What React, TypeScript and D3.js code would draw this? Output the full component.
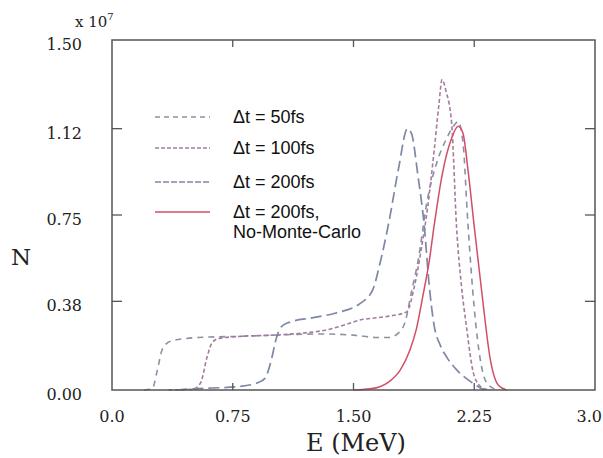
import React from "react";
import * as d3 from "d3";

// Energy (MeV) and N (x10^7)
const e50 = [0.2, 0.25, 0.28, 0.31, 0.34, 0.38, 0.45, 0.6, 0.8, 1.0, 1.3, 1.5, 1.65, 1.72, 1.78, 1.82, 1.86, 1.9, 1.96, 2.02, 2.08, 2.12, 2.15, 2.18, 2.21, 2.25, 2.29, 2.32, 2.36, 2.4];
const n50 = [0, 0.005, 0.08, 0.17, 0.2, 0.212, 0.22, 0.227, 0.23, 0.235, 0.24, 0.235, 0.225, 0.225, 0.245, 0.29, 0.42, 0.55, 0.82, 0.98, 1.08, 1.13, 1.15, 1.06, 0.72, 0.35, 0.12, 0.04, 0.01, 0];

const e100 = [0.35, 0.5, 0.55, 0.59, 0.62, 0.66, 0.8, 1.0, 1.2, 1.33, 1.45, 1.54, 1.65, 1.75, 1.83, 1.88, 1.92, 1.96, 2.0, 2.03, 2.05, 2.075, 2.11, 2.14, 2.17, 2.2, 2.25, 2.3, 2.35];
const n100 = [0, 0.003, 0.03, 0.14, 0.2, 0.22, 0.23, 0.235, 0.245, 0.257, 0.28, 0.3, 0.31, 0.32, 0.335, 0.45, 0.6, 0.78, 1.02, 1.22, 1.33, 1.28, 1.14, 0.7, 0.45, 0.28, 0.06, 0.01, 0];

const e200 = [0.4, 0.5, 0.79, 0.9, 0.95, 0.99, 1.02, 1.05, 1.1, 1.25, 1.39, 1.54, 1.62, 1.66, 1.72, 1.78, 1.835, 1.86, 1.9, 1.94, 1.97, 2.0, 2.04, 2.08, 2.15, 2.24, 2.31];
const n200 = [0, 0.005, 0.015, 0.03, 0.05, 0.13, 0.22, 0.27, 0.29, 0.31, 0.33, 0.37, 0.43, 0.53, 0.72, 0.95, 1.12, 1.1, 0.92, 0.7, 0.45, 0.28, 0.19, 0.14, 0.08, 0.03, 0];

const eNoMC = [1.5, 1.6, 1.66, 1.72, 1.79, 1.85, 1.89, 1.93, 1.97, 2.0, 2.05, 2.11, 2.15, 2.18, 2.21, 2.25, 2.3, 2.35, 2.4, 2.45];
const nNoMC = [0, 0.005, 0.013, 0.035, 0.085, 0.17, 0.26, 0.4, 0.55, 0.7, 0.92, 1.08, 1.13, 1.1, 0.95, 0.7, 0.4, 0.13, 0.02, 0];

const xTicks = [0, 0.75, 1.5, 2.25, 3.0];
const xTickLabels = ["0.0", "0.75", "1.50", "2.25", "3.0"];
const yTicks = [0, 0.38, 0.75, 1.12, 1.5];
const yTickLabels = ["0.00", "0.38", "0.75", "1.12", "1.50"];

const seriesNames = ["\u0394t = 50fs", "\u0394t = 100fs", "\u0394t = 200fs", "\u0394t = 200fs,"];

const SERIF = "DejaVu Serif";
const SANS = "Liberation Sans";

export default function App() {
  const W = 603, H = 458;
  const L = 112, R = 595, T = 40, B = 390;
  const x = d3.scaleLinear().domain([0, 3]).range([L, R]);
  const y = d3.scaleLinear().domain([0, 1.5]).range([B, T]);

  const mk = (es: number[], ns: number[]) =>
    d3.line<number>().x((_, i) => x(es[i])).y((_, i) => y(ns[i])).curve(d3.curveMonotoneX)(ns) || "";

  const series = [
    { d: mk(e50, n50), color: "#8d90a4", dash: "6 5", w: 1.6 },
    { d: mk(e100, n100), color: "#a47c9c", dash: "4 2.5", w: 1.6 },
    { d: mk(e200, n200), color: "#7d87a6", dash: "11 5", w: 1.7 },
    { d: mk(eNoMC, nNoMC), color: "#d24e66", dash: "", w: 1.5 },
  ];

  const legendY = [117, 148, 182, 212];
  const legendDash = ["5 4", "4 2", "6 2", ""];

  return (
    <svg width={W} height={H} style={{ display: "block", position: "absolute", left: 0, top: 0 }}>
      <rect x={0} y={0} width={W} height={H} fill="#ffffff" />
      {series.map((s, i) => (
        <path key={i} d={s.d} fill="none" stroke={s.color} strokeWidth={s.w} strokeDasharray={s.dash || undefined} />
      ))}
      <rect x={L} y={T} width={R - L} height={B - T} fill="none" stroke="#555" strokeWidth={1.5} />
      {xTicks.slice(1, -1).map((t, i) => (
        <g key={"xt" + i}>
          <line x1={x(t)} x2={x(t)} y1={B} y2={B - 7} stroke="#555" strokeWidth={1.3} />
          <line x1={x(t)} x2={x(t)} y1={T} y2={T + 7} stroke="#555" strokeWidth={1.3} />
        </g>
      ))}
      {yTicks.slice(1, -1).map((t, i) => (
        <g key={"yt" + i}>
          <line x1={L} x2={L + 10} y1={y(t)} y2={y(t)} stroke="#555" strokeWidth={1.3} />
          <line x1={R} x2={R - 10} y1={y(t)} y2={y(t)} stroke="#555" strokeWidth={1.3} />
        </g>
      ))}
      {xTicks.map((t, i) => {
        const last = i === xTicks.length - 1;
        return (
          <text key={"xl" + i} x={last ? x(t) + 7 : x(t)} y={422} textAnchor={last ? "end" : "middle"} fontFamily={SERIF} fontSize={16} fill="#222">
            {xTickLabels[i]}
          </text>
        );
      })}
      {yTicks.map((t, i) => (
        <text key={"yl" + i} x={82} y={y(t) + 10} textAnchor="end" fontFamily={SERIF} fontSize={16} fill="#222">
          {yTickLabels[i]}
        </text>
      ))}
      <text x={75} y={27} fontFamily={SERIF} fontSize={15} fill="#222">
        x 10<tspan dy={-7} fontSize={10}>7</tspan>
      </text>
      <text x={21} y={265} textAnchor="middle" fontFamily={SERIF} fontSize={23} fill="#222">N</text>
      <text x={356} y={451} textAnchor="middle" fontFamily={SERIF} fontSize={24} fill="#222">E (MeV)</text>
      {seriesNames.map((name, i) => (
        <g key={"lg" + i}>
          <line x1={155} x2={210} y1={legendY[i]} y2={legendY[i]} stroke={series[i].color} strokeWidth={1.6} strokeDasharray={legendDash[i] || undefined} />
          <text x={233} y={legendY[i] + 6} fontFamily={SANS} fontSize={18} fill="#111">{name}</text>
        </g>
      ))}
      <text x={233} y={238} fontFamily={SANS} fontSize={18} fill="#111">No-Monte-Carlo</text>
    </svg>
  );
}
